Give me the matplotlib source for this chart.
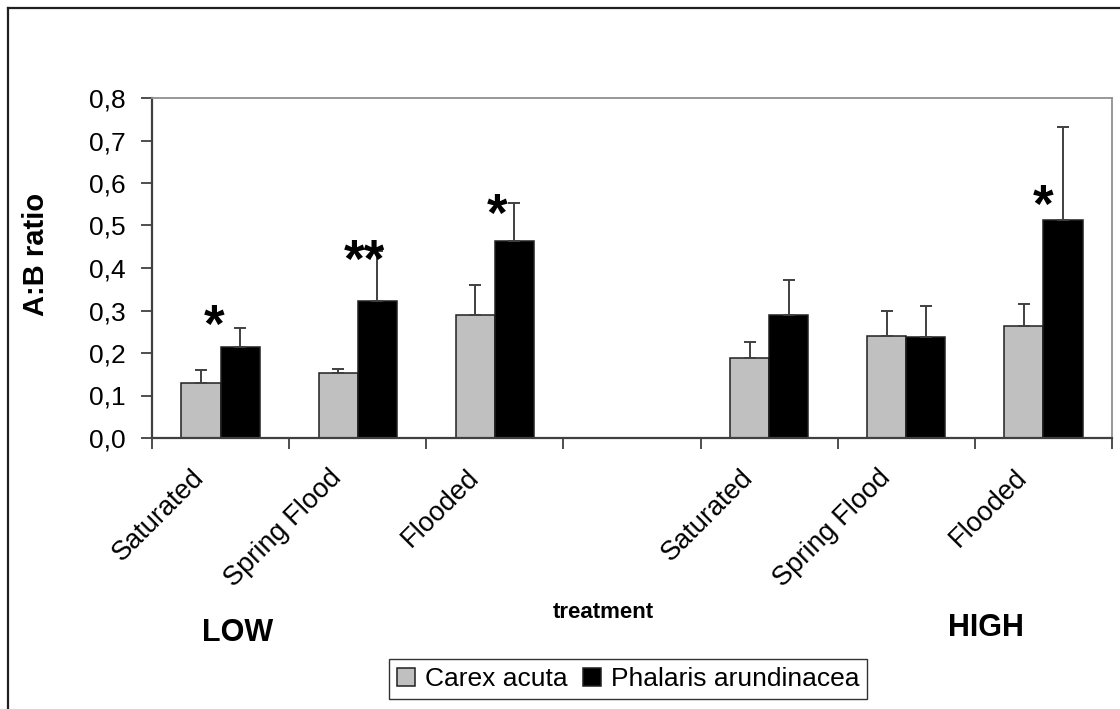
import numpy as np
import matplotlib
matplotlib.use("Agg")
import matplotlib.pyplot as plt
from matplotlib.ticker import FuncFormatter, MultipleLocator
from matplotlib.lines import Line2D
from matplotlib.transforms import ScaledTranslation

plt.rcParams['font.family'] = ['Liberation Sans', 'DejaVu Sans']

# category slots (slot 3 is the empty gap between LOW and HIGH)
positions = [0, 1, 2, 4, 5, 6]
labels = ["Saturated", "Spring Flood", "Flooded", "Saturated", "Spring Flood", "Flooded"]

carex = [0.130, 0.154, 0.289, 0.188, 0.239, 0.264]
carex_err = [0.031, 0.009, 0.071, 0.039, 0.059, 0.052]
phalaris = [0.213, 0.323, 0.464, 0.289, 0.237, 0.513]
phalaris_err = [0.045, 0.117, 0.088, 0.083, 0.073, 0.218]

stars = ["*", "**", "*", "", "", "*"]
star_x = [-0.05, 1.05, 2.02, None, None, 6.0]
star_y = [0.258, 0.413, 0.52, None, None, 0.541]

fig = plt.figure(figsize=(11.2, 7.09), dpi=100)
ax = fig.add_axes([152 / 1120, 1 - 438 / 709, 960 / 1120, 340 / 709])

w = 0.285
pos = np.array(positions)
err_kw = dict(ecolor="#404040", elinewidth=1.4, capsize=4.5, capthick=1.4)
ax.bar(pos - w / 2, carex, w, color="#c0c0c0", edgecolor="#202020", linewidth=1.1,
       yerr=[np.zeros(len(carex)), carex_err], error_kw=err_kw, label="Carex acuta", zorder=2)
ax.bar(pos + w / 2, phalaris, w, color="black", edgecolor="#202020", linewidth=1.1,
       yerr=[np.zeros(len(phalaris)), phalaris_err], error_kw=err_kw,
       label="Phalaris arundinacea", zorder=2)

# significance marks
for s, x, y in zip(stars, star_x, star_y):
    if s:
        ax.text(x, y, s, ha="center", va="center", fontsize=38, fontweight="bold", zorder=5)

ax.set_xlim(-0.5, 6.5)
ax.set_ylim(0, 0.8)
ax.yaxis.set_major_locator(MultipleLocator(0.1))
ax.yaxis.set_major_formatter(FuncFormatter(lambda v, p: f"{v:.1f}".replace(".", ",")))

ax.set_xticks(np.arange(-0.5, 7, 1))
ax.set_xticklabels([])
ax.set_xticks(positions, minor=True)
ax.set_xticklabels(labels, minor=True, rotation=45, ha="right", va="center",
                   rotation_mode="anchor", fontsize=19.5)
ax.tick_params(axis="x", which="minor", length=0, pad=26)
ax.tick_params(axis="x", which="major", length=8, color="#404040", width=1.3)
ax.tick_params(axis="y", length=8, color="#404040", width=1.3, labelsize=19, pad=11)
shift = ScaledTranslation(-20 / 100, 0, fig.dpi_scale_trans)
for lab in ax.get_xticklabels(minor=True):
    lab.set_transform(lab.get_transform() + shift)

for side in ("top", "right"):
    ax.spines[side].set_color("#909090")
    ax.spines[side].set_linewidth(1.3)
for side in ("left", "bottom"):
    ax.spines[side].set_color("#404040")
    ax.spines[side].set_linewidth(1.6)

ax.set_ylabel("A:B ratio", fontsize=21, fontweight="bold")
ax.yaxis.set_label_coords(-0.106, 0.54)

fig.text(603 / 1120, 1 - 613 / 709, "treatment", ha="center", va="center",
         fontsize=16, fontweight="bold")
fig.text(238 / 1120, 1 - 633 / 709, "LOW", ha="center", va="center",
         fontsize=22, fontweight="bold")
fig.text(986 / 1120, 1 - 628 / 709, "HIGH", ha="center", va="center",
         fontsize=22, fontweight="bold")

leg = fig.legend(loc="center", bbox_to_anchor=(628 / 1120, 1 - 679 / 709), ncol=2,
                 fontsize=19, frameon=True, fancybox=False, edgecolor="black",
                 handlelength=0.7, handleheight=0.7, handletextpad=0.35,
                 columnspacing=0.6, borderpad=0.3, borderaxespad=0)
leg.get_frame().set_linewidth(1.0)

# outer chart frame (only top and left edges visible)
x0, y0 = 8 / 1120, 1 - 8 / 709
fig.add_artist(Line2D([x0, x0], [0, y0], transform=fig.transFigure, color="#202020", lw=1.6))
fig.add_artist(Line2D([x0, 1], [y0, y0], transform=fig.transFigure, color="#202020", lw=1.6))

fig.savefig("out.png", dpi=100)
